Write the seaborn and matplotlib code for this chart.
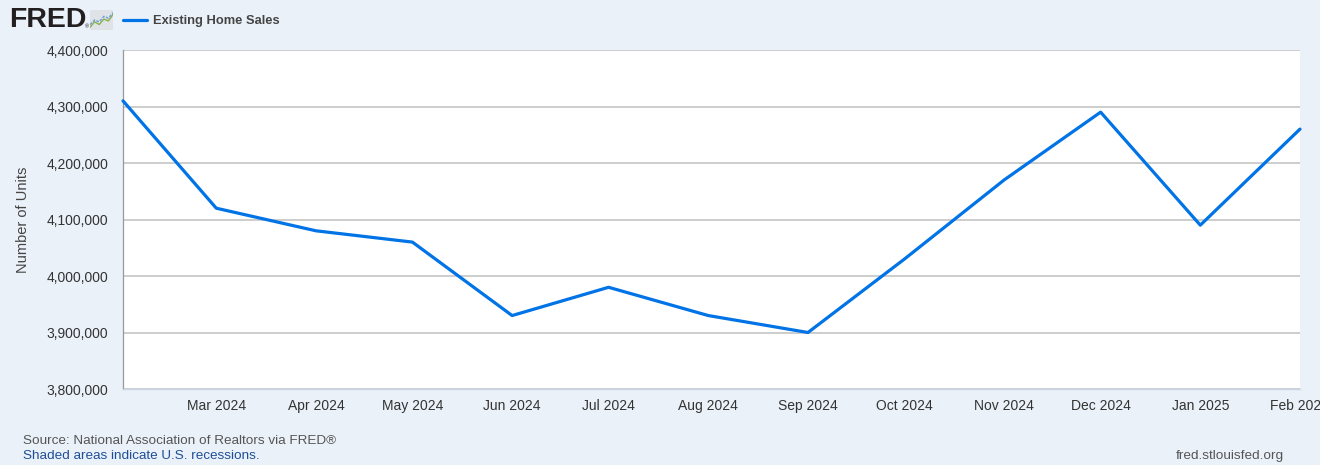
import pandas as pd
import seaborn as sns
import matplotlib.pyplot as plt
import matplotlib.dates as mdates
from matplotlib.ticker import FuncFormatter, MultipleLocator

months = ["2024-02", "2024-03", "2024-04", "2024-05", "2024-06", "2024-07",
          "2024-08", "2024-09", "2024-10", "2024-11", "2024-12", "2025-01", "2025-02"]
sales = [4310000, 4120000, 4080000, 4060000, 3930000, 3980000,
         3930000, 3900000, 4030000, 4170000, 4290000, 4090000, 4260000]
tick_months = months[1:]

# little FRED logo chart (decoration)
logo_x = [0, 1, 2, 3, 4, 5]
logo_green = [0.15, 0.45, 0.3, 0.6, 0.5, 0.85]
logo_blue = [0.3, 0.55, 0.45, 0.75, 0.65, 0.95]

BG = "#eaf1f9"
BLUE = "#0073e6"

sns.set_style("white")
plt.rcParams["font.family"] = ["Liberation Sans", "DejaVu Sans"]

df = pd.DataFrame({"date": pd.to_datetime(months), "value": sales})

fig = plt.figure(figsize=(13.2, 4.65), dpi=100, facecolor=BG)
ax = fig.add_axes([123 / 1320, 1 - 389 / 465, (1300 - 123) / 1320, (389 - 50) / 465])
ax.set_facecolor("white")

sns.lineplot(data=df, x="date", y="value", ax=ax, color=BLUE, linewidth=2.3,
             clip_on=False, zorder=3)

ax.set_xlim(pd.Timestamp(months[0]), pd.Timestamp(months[-1]))
ax.set_ylim(3800000, 4400000)
ax.yaxis.set_major_locator(MultipleLocator(100000))
ax.yaxis.set_major_formatter(FuncFormatter(lambda v, p: f"{int(v):,}"))
ax.set_xticks(pd.to_datetime(tick_months))
ax.xaxis.set_major_formatter(mdates.DateFormatter("%b %Y"))

ax.grid(axis="y", color="#c0c0c0", linewidth=1.1)
ax.set_axisbelow(True)
for s in ["top", "right"]:
    ax.spines[s].set_visible(False)
ax.spines["left"].set_color("#999999")
ax.spines["left"].set_linewidth(0.9)
ax.spines["bottom"].set_color("#ccd6eb")
ax.spines["bottom"].set_linewidth(1.0)

ax.tick_params(axis="x", length=9, width=0.9, color="#ccd6eb", pad=-2,
               labelsize=10, labelcolor="#333333")
ax.tick_params(axis="y", length=0, pad=10.5, labelsize=10, labelcolor="#333333")
for lbl in ax.get_xticklabels():
    lbl.set_clip_on(False)

ax.set_xlabel("")
ax.set_ylabel("Number of Units", fontsize=10.5, color="#444444")
ax.yaxis.set_label_coords(-0.079, 0.5)

# header: logo + legend
fig.text(9 / 1320, 1 - 20 / 465, "FRED", fontsize=20.5, fontweight="heavy",
         color="#231f20", va="center", ha="left")
fig.text(85 / 1320, 1 - 27 / 465, "®", fontsize=4, color="#231f20", va="center")
lax = fig.add_axes([90 / 1320, 1 - 30 / 465, 23 / 1320, 20 / 465])
lax.set_facecolor("#dfe3e8")
lax.plot(logo_x, logo_green, color="#8bb04f", linewidth=1)
lax.plot(logo_x, logo_blue, color="#6a9fd0", linewidth=1, linestyle=(0, (2, 1)))
lax.set_xlim(0, 5)
lax.set_ylim(0, 1.1)
lax.set_xticks([])
lax.set_yticks([])
for s in lax.spines.values():
    s.set_visible(False)

fig.add_artist(plt.Line2D([123 / 1320, 147 / 1320], [1 - 20 / 465, 1 - 20 / 465],
                          color=BLUE, linewidth=2.3))
fig.text(153 / 1320, 1 - 21 / 465, "Existing Home Sales", fontsize=9.3,
         fontweight="bold", color="#444444", va="center", ha="left")

# footer
fig.text(23 / 1320, 1 - 441 / 465, "Source: National Association of Realtors via FRED®",
         fontsize=9.7, color="#555555", va="center", ha="left")
fig.text(23 / 1320, 1 - 456 / 465, "Shaded areas indicate U.S. recessions.",
         fontsize=9.7, color="#1f4e99", va="center", ha="left")
fig.text(1284 / 1320, 1 - 456 / 465, "fred.stlouisfed.org",
         fontsize=9.7, color="#555555", va="center", ha="right")

fig.savefig("out.png", dpi=100, facecolor=BG)
